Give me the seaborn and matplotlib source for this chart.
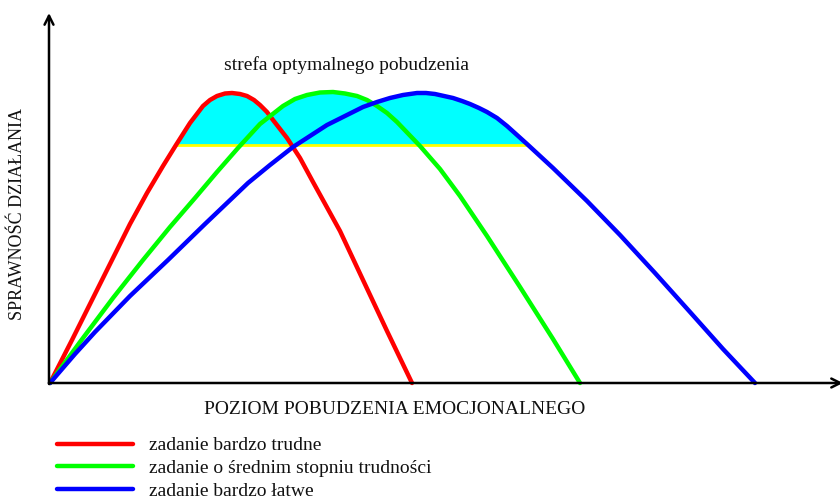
import numpy as np
import pandas as pd
import matplotlib
matplotlib.use('Agg')
import matplotlib.pyplot as plt
import seaborn as sns

# curves (arousal level -> performance)
red_x = [0, 22, 43, 62, 80, 97, 113, 126, 140, 153, 160, 167, 175, 182, 190, 197, 204, 210, 217, 223,
         237, 250, 263, 290, 313, 337, 362]
red_y = [0, 43, 85, 123, 159, 190, 217, 238, 260, 277, 283, 287, 289.5, 290, 289, 287, 283, 278, 271, 263,
         245, 225, 201, 152, 103, 52, 0]

green_x = [0, 30, 63, 93, 120, 145, 167, 188, 210, 233, 245, 257, 270, 283, 295, 307, 317, 327, 337, 347,
           370, 390, 410, 437, 470, 503, 530]
green_y = [0, 41, 85, 123, 156, 185, 211, 235, 259, 277, 284, 288, 290.5, 291, 289.5, 287, 283, 277, 270, 261,
           237, 214, 187, 147, 96, 44, 0]

blue_x = [0, 25, 45, 80, 118, 155, 198, 220, 243, 277, 313, 327, 340, 353, 367, 376, 385, 394, 403, 412,
          420, 429, 437, 447, 457, 477, 503, 537, 570, 605, 640, 673, 705]
blue_y = [0, 29, 51, 87, 123, 159, 200, 218, 236, 258, 276, 281, 285, 288, 290, 290, 289, 287, 285, 282,
          279, 275, 271, 265, 257, 239, 215, 182, 148, 110, 71, 34, 0]

# optimal zone: threshold level and its x span
zone_level = 238
zone_x = [125, 478]

labels = ['zadanie bardzo trudne',
          'zadanie o średnim stopniu trudności',
          'zadanie bardzo łatwe']
colors = ['#ff0000', '#00ff00', '#0000ff']

sns.set_style('white')
plt.rcParams['font.family'] = ['Liberation Serif', 'DejaVu Serif']

fig = plt.figure(figsize=(8.4, 5), dpi=100)
ax = fig.add_axes([0, 0, 1, 1])
ax.set_xlim(-50, 790)
ax.set_ylim(-117, 383)
ax.axis('off')

curves = [(red_x, red_y), (green_x, green_y), (blue_x, blue_y)]

# cyan zone above the yellow line
for cx, cy in curves:
    cx = np.array(cx)
    cy = np.array(cy)
    ax.fill_between(cx, cy, zone_level, where=cy >= zone_level,
                    interpolate=True, color='#00ffff', lw=0, zorder=1)
ax.plot(zone_x, [zone_level, zone_level], color='#ffff00', lw=2, zorder=2)

for (cx, cy), col, lab in zip(curves, colors, labels):
    df = pd.DataFrame({'x': cx, 'y': cy})
    sns.lineplot(data=df, x='x', y='y', color=col, lw=3.2, ax=ax,
                 label=lab, zorder=3, solid_joinstyle='round')

# axes with arrows
ax.annotate('', xy=(-1, 370), xytext=(-1, -1),
            arrowprops=dict(arrowstyle='->', lw=1.8, color='black',
                            mutation_scale=16, shrinkA=0, shrinkB=0))
ax.annotate('', xy=(793, 0), xytext=(-1, 0),
            arrowprops=dict(arrowstyle='->', lw=1.8, color='black',
                            mutation_scale=16, shrinkA=0, shrinkB=0),
            annotation_clip=False)

ax.text(297, 318, 'strefa optymalnego pobudzenia', ha='center', va='center',
        fontsize=14, color='#111111')
ax.text(345, -27, 'POZIOM POBUDZENIA EMOCJONALNEGO', ha='center', va='center',
        fontsize=14, color='#111111')
ax.text(-32, 169, 'SPRAWNOŚĆ DZIAŁANIA', ha='center', va='center',
        rotation=90, fontsize=13, color='#111111')

leg = ax.legend(loc='upper left', bbox_to_anchor=(49 / 840, 1 - 429 / 500),
                frameon=False, fontsize=14, handlelength=3.9,
                handletextpad=0.85, labelspacing=0.27, borderaxespad=0)
for t in leg.get_texts():
    t.set_color('#111111')

fig.savefig('out.png', dpi=100)
